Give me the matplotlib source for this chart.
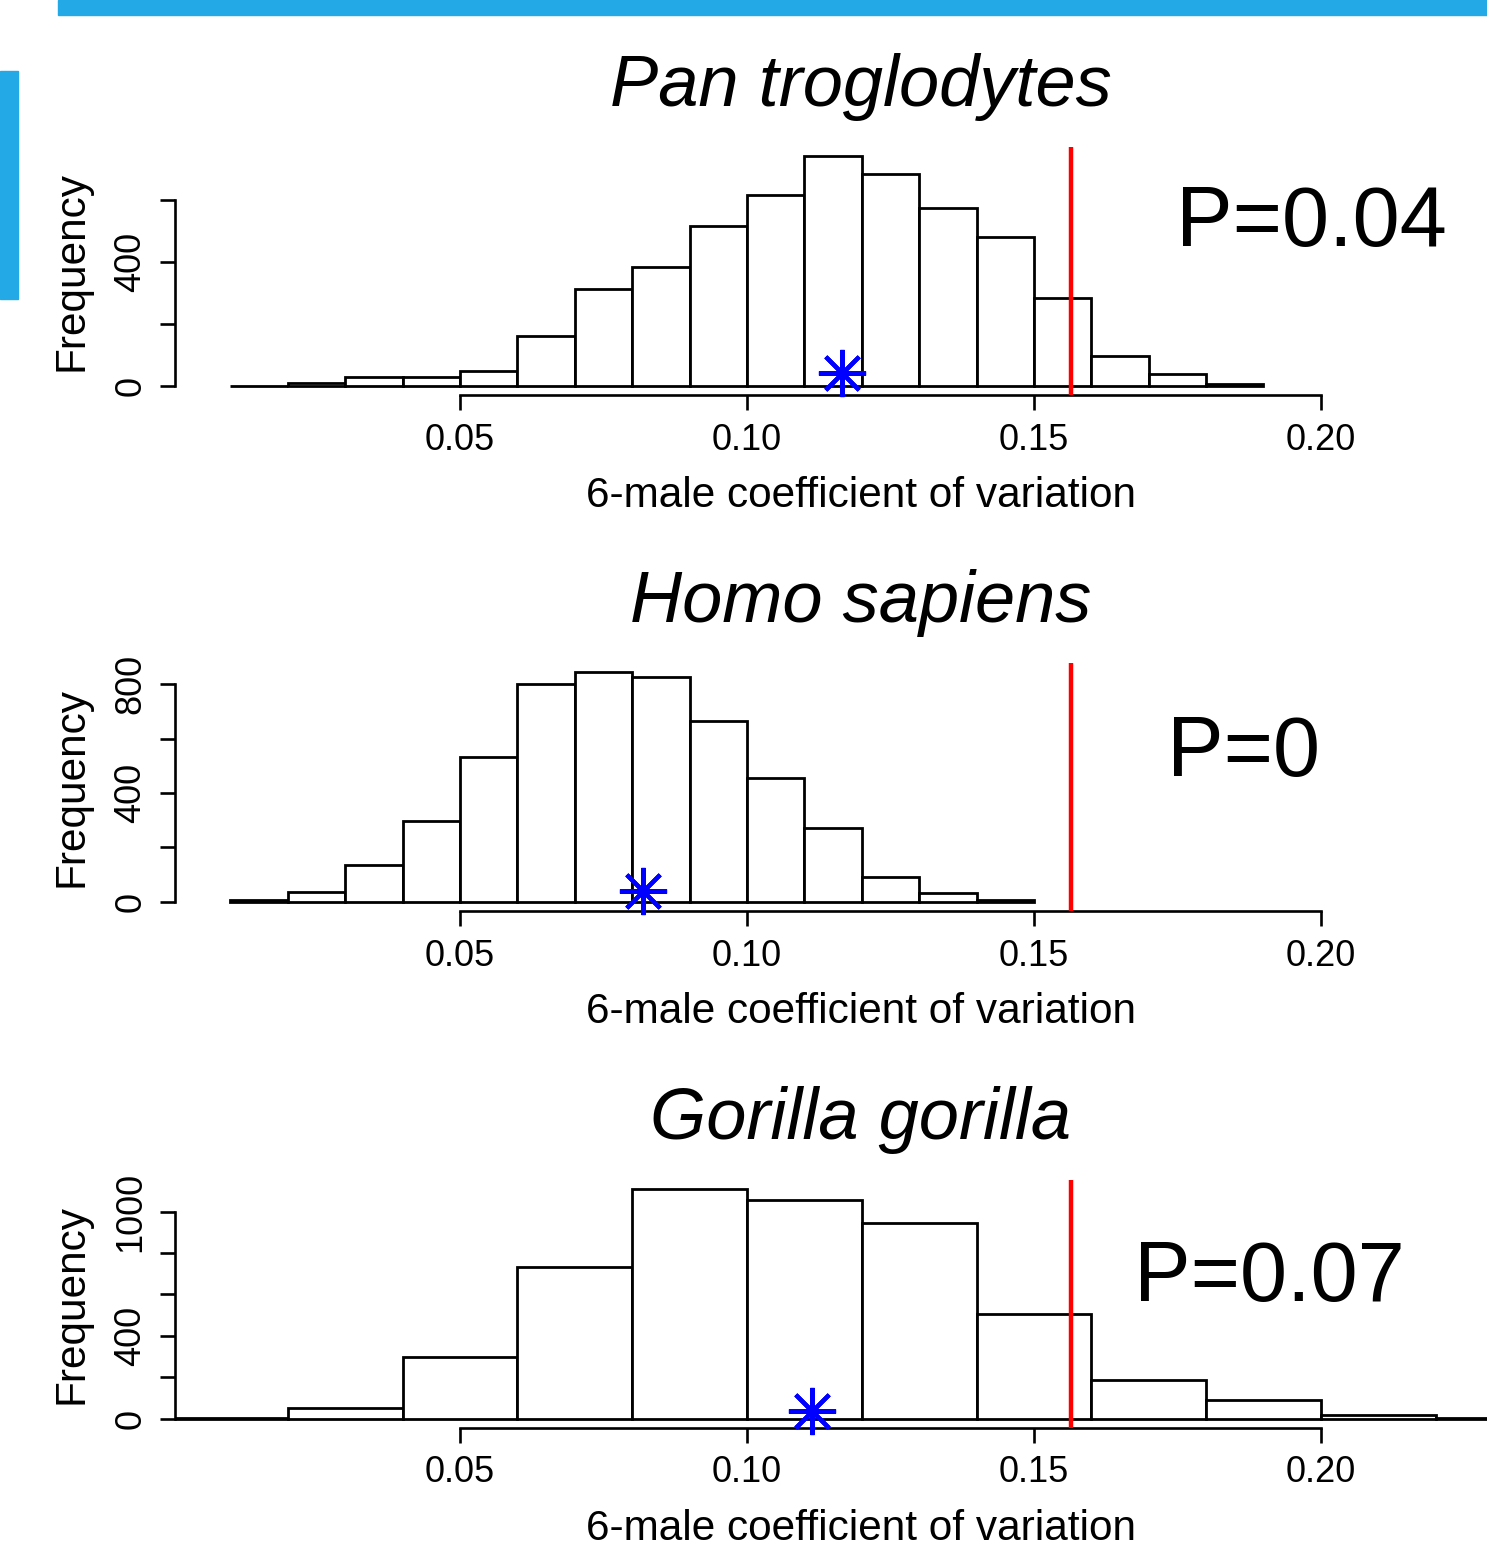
import matplotlib
matplotlib.use('Agg')
import matplotlib.pyplot as plt
from matplotlib.patches import Rectangle

plt.rcParams['font.family'] = ['Liberation Sans', 'DejaVu Sans']

# species panels, top to bottom
species = ['Pan troglodytes', 'Homo sapiens', 'Gorilla gorilla']
p_labels = ['P=0.04', 'P=0', 'P=0.07']

# histogram bins (left edges) and counts
pan_left = [0.01, 0.02, 0.03, 0.04, 0.05, 0.06, 0.07, 0.08, 0.09,
            0.10, 0.11, 0.12, 0.13, 0.14, 0.15, 0.16, 0.17, 0.18]
pan_counts = [1, 8, 28, 29, 49, 162, 314, 385, 518,
              615, 742, 686, 574, 480, 284, 96, 39, 5]

homo_left = [0.01, 0.02, 0.03, 0.04, 0.05, 0.06, 0.07,
             0.08, 0.09, 0.10, 0.11, 0.12, 0.13, 0.14]
homo_counts = [7, 37, 135, 298, 532, 800, 845,
               829, 667, 457, 273, 93, 32, 6]

gor_left = [0.00, 0.02, 0.04, 0.06, 0.08, 0.10,
            0.12, 0.14, 0.16, 0.18, 0.20, 0.22]
gor_counts = [6, 50, 300, 734, 1108, 1055,
              944, 505, 189, 93, 16, 2]

bin_widths = [0.01, 0.01, 0.02]

# observed CV (red line) and the star for each species
observed_cv = 0.1564
star_cv = [0.1166, 0.0819, 0.1114]
star_y = 40

xticks = [0.05, 0.10, 0.15, 0.20]
xtick_labels = ['0.05', '0.10', '0.15', '0.20']
pan_yticks = [0, 200, 400, 600]
pan_ytick_labels = ['0', '', '400', '']
homo_yticks = [0, 200, 400, 600, 800]
homo_ytick_labels = ['0', '', '400', '', '800']
gor_yticks = [0, 200, 400, 600, 800, 1000]
gor_ytick_labels = ['0', '', '400', '', '', '1000']

lefts = [pan_left, homo_left, gor_left]
counts = [pan_counts, homo_counts, gor_counts]
yticks = [pan_yticks, homo_yticks, gor_yticks]
ytick_labels = [pan_ytick_labels, homo_ytick_labels, gor_ytick_labels]

W, H = 1487, 1555
fig = plt.figure(figsize=(W / 100, H / 100), dpi=100)

# slide decoration
blue = '#23A9E6'
fig.patches.append(Rectangle((58 / W, 1 - 15 / H), 1 - 58 / W, 15 / H,
                             transform=fig.transFigure, color=blue))
fig.patches.append(Rectangle((0, 1 - 299 / H), 18 / W, 228 / H,
                             transform=fig.transFigure, color=blue))

panel_tops = [147, 663, 1180]
p_pos = [(0.7296, 0.601), (0.7229, 0.545), (0.6992, 0.512)]

for i in range(3):
    top = panel_tops[i]
    ax = fig.add_axes([175 / W, 1 - (top + 248) / H, 1372 / W, 248 / H])

    ax.bar(lefts[i], counts[i], width=bin_widths[i], align='edge',
           facecolor='white', edgecolor='black', linewidth=2.0)
    ymax = max(counts[i])
    ax.set_ylim(-0.04 * ymax, 1.04 * ymax)
    ax.set_xlim(0.00035, 0.2394)

    ax.axvline(observed_cv, color='red', lw=3.2, zorder=3)
    ax.plot([star_cv[i]], [star_y], marker=(8, 2, 0), ms=34, mew=3,
            color='blue', ls='none', zorder=5, clip_on=False)

    for s in ['top', 'right']:
        ax.spines[s].set_visible(False)
    ax.spines['left'].set_bounds(0, yticks[i][-1])
    ax.spines['bottom'].set_bounds(0.05, 0.20)
    for s in ['left', 'bottom']:
        ax.spines[s].set_linewidth(1.9)

    ax.set_xticks(xticks)
    ax.set_xticklabels(xtick_labels)
    ax.set_yticks(yticks[i])
    ax.set_yticklabels(ytick_labels[i], rotation=90, va='center')
    ax.tick_params(axis='x', length=10.8, width=1.9, labelsize=26, pad=9)
    ax.tick_params(axis='y', length=10.8, width=1.9, labelsize=26, pad=8.3)

    ax.set_xlabel('6-male coefficient of variation', fontsize=30.5, labelpad=13.5)
    ax.set_ylabel('Frequency', fontsize=30.5, labelpad=16)
    ax.set_title(species[i], fontsize=52, style='italic', pad=29.5)

    ax.text(p_pos[i][0], p_pos[i][1], p_labels[i], transform=ax.transAxes,
            fontsize=61, va='baseline', ha='left')

fig.savefig('out.png', dpi=100)
